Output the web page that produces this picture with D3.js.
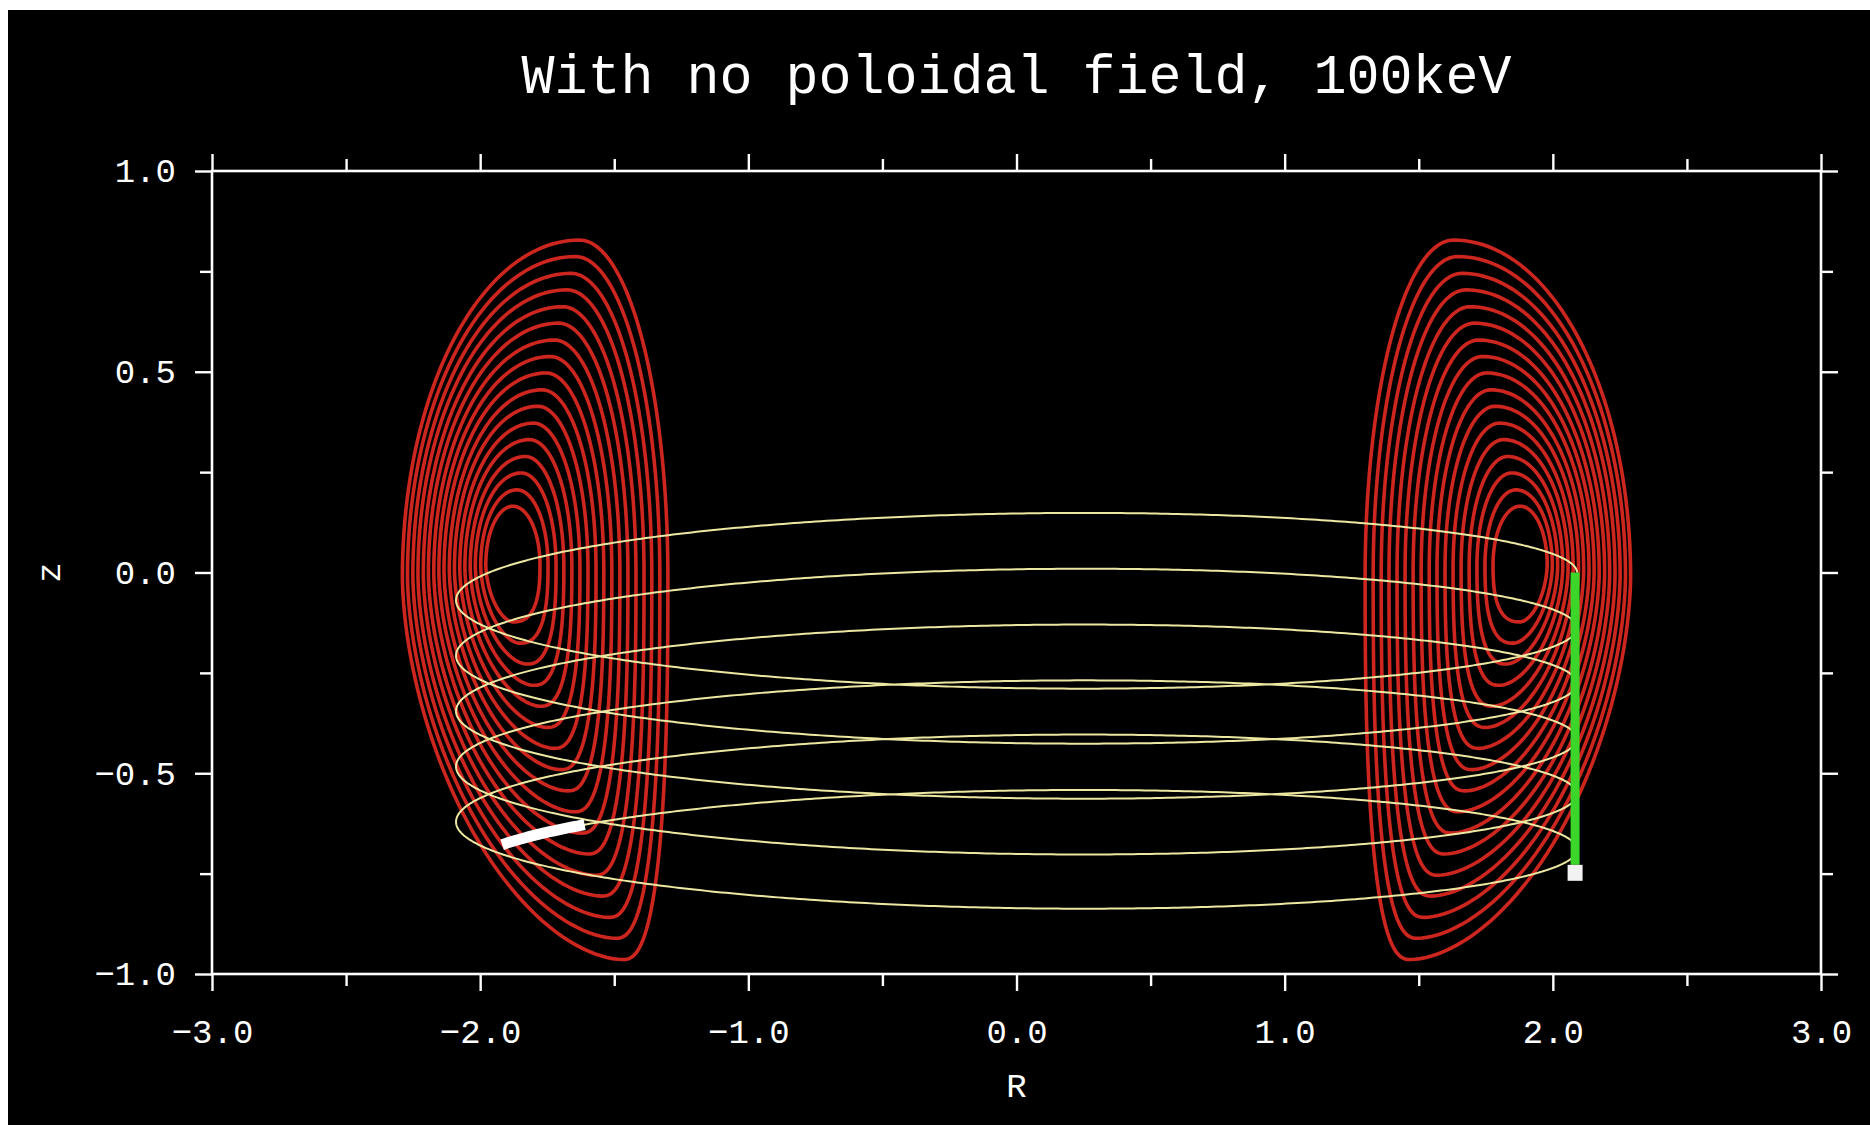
<!DOCTYPE html>
<html>
<head>
<meta charset="utf-8">
<script src="https://cdn.jsdelivr.net/npm/d3@7"></script>
<style>
    body { margin: 0; background: #ffffff; }
    svg { display: block; }
</style>
</head>
<body>
<script>
// axis ticks
var xTicks = [-3, -2, -1, 0, 1, 2, 3];
var xMinorTicks = [-2.5, -1.5, -0.5, 0.5, 1.5, 2.5];
var xTickLabels = ['\u22123.0', '\u22122.0', '\u22121.0', '0.0', '1.0', '2.0', '3.0'];
var yTicks = [-1, -0.5, 0, 0.5, 1];
var yMinorTicks = [-0.75, -0.25, 0.25, 0.75];
var yTickLabels = ['\u22121.0', '\u22120.5', '0.0', '0.5', '1.0'];

// flux surfaces (right half, the left one is its mirror), innermost first
var surfInnerR  = [1.777, 1.747, 1.717, 1.688, 1.658, 1.628, 1.598, 1.568, 1.539, 1.509, 1.479, 1.449, 1.419, 1.389, 1.360, 1.330, 1.300];
var surfOuterR  = [1.979, 1.998, 2.018, 2.037, 2.057, 2.076, 2.096, 2.115, 2.135, 2.154, 2.173, 2.193, 2.212, 2.232, 2.251, 2.271, 2.290];
var surfTopZ    = [0.165, 0.206, 0.248, 0.289, 0.331, 0.372, 0.414, 0.455, 0.497, 0.538, 0.579, 0.621, 0.662, 0.704, 0.745, 0.787, 0.828];
var surfBottomZ = [-0.123, -0.176, -0.228, -0.281, -0.333, -0.386, -0.438, -0.491, -0.544, -0.596, -0.649, -0.701, -0.754, -0.806, -0.859, -0.911, -0.964];
var surfTopR    = [1.878, 1.863, 1.847, 1.832, 1.816, 1.801, 1.785, 1.769, 1.754, 1.738, 1.723, 1.707, 1.692, 1.676, 1.661, 1.645, 1.630];
var surfBottomR = [1.878, 1.853, 1.827, 1.802, 1.776, 1.751, 1.725, 1.700, 1.674, 1.649, 1.623, 1.598, 1.572, 1.547, 1.521, 1.496, 1.470];
var surfMidZ    = [0.020, 0.018, 0.016, 0.014, 0.013, 0.011, 0.009, 0.007, 0.005, 0.003, 0.001, -0.001, -0.003, -0.004, -0.006, -0.008, -0.010];

// particle orbit: turning points and arc heights at R = 0
var orbitRadius = 2.09;
var orbitRightTipZ = [0.000, -0.138, -0.276, -0.414, -0.552, -0.690];
var orbitLeftTipZ = [-0.069, -0.207, -0.345, -0.483, -0.621, -0.759];
var orbitUpperMidZ = [0.147, 0.008, -0.131, -0.270, -0.405, -0.543];
var orbitLowerMidZ = [-0.288, -0.425, -0.562, -0.701, -0.836];
var orbitEndR = -1.92;
var markStartR = -1.60;

// drift marker
var driftR = 2.083;
var driftTopZ = 0.0;
var driftBottomZ = -0.728;
var endBoxZ = -0.748;

var W = 1870, H = 1125;
var plotL = 212, plotR = 1821, plotT = 171, plotB = 974;

var svg = d3.select('body').append('svg')
    .attr('width', W)
    .attr('height', H);

svg.append('rect')
    .attr('x', 8).attr('y', 10)
    .attr('width', W - 8).attr('height', H - 10)
    .attr('fill', '#000000');

var x = d3.scaleLinear().domain([-3, 3]).range([plotL, plotR]);
var y = d3.scaleLinear().domain([-1, 1]).range([plotB, plotT]);

var line = d3.line().x(d => x(d[0])).y(d => y(d[1]));

// one quarter of a superellipse, from the side point to the apex
function quarter(rSide, zSide, rApex, zApex, p, reverse) {
    var pts = [];
    var n = 48;
    for (var i = 0; i <= n; i++) {
        var s = (reverse ? n - i : i) / n * Math.PI / 2;
        var u = Math.pow(Math.cos(s), 2 / p);
        var v = Math.pow(Math.sin(s), 2 / p);
        pts.push([rApex + (rSide - rApex) * u, zSide + (zApex - zSide) * v]);
    }
    return pts;
}

function surface(i, sign) {
    var pts = []
        .concat(quarter(surfOuterR[i], surfMidZ[i], surfTopR[i], surfTopZ[i], 2.0, false))
        .concat(quarter(surfInnerR[i], surfMidZ[i], surfTopR[i], surfTopZ[i], 2.0, true))
        .concat(quarter(surfInnerR[i], surfMidZ[i], surfBottomR[i], surfBottomZ[i], 2.6, false))
        .concat(quarter(surfOuterR[i], surfMidZ[i], surfBottomR[i], surfBottomZ[i], 1.75, true));
    return pts.map(d => [sign * d[0], d[1]]);
}

var surfaces = [];
surfInnerR.forEach(function(d, i) {
    surfaces.push(surface(i, 1));
    surfaces.push(surface(i, -1));
});

var closedLine = d3.line().x(d => x(d[0])).y(d => y(d[1])).curve(d3.curveLinearClosed);

svg.append('g')
    .attr('class', 'surfaces')
    .selectAll('path')
    .data(surfaces)
    .enter().append('path')
    .attr('d', closedLine)
    .attr('fill', 'none')
    .attr('stroke', '#cc261f')
    .attr('stroke-width', 3.6);

// half turns of the orbit, from one turning point to the next
var halves = [];
orbitRightTipZ.forEach(function(z0, k) {
    halves.push({ from: z0, to: orbitLeftTipZ[k], mid: orbitUpperMidZ[k], phase: 0 });
    if (k < orbitLowerMidZ.length) {
        halves.push({ from: orbitLeftTipZ[k], to: orbitRightTipZ[k + 1], mid: orbitLowerMidZ[k], phase: Math.PI });
    }
});

var sEnd = Math.acos(orbitEndR / orbitRadius);
var sMark = Math.acos(markStartR / orbitRadius);
var orbit = [], mark = [];
halves.forEach(function(h, j) {
    var last = j === halves.length - 1;
    var amp = h.mid - (h.from + h.to) / 2;
    for (var i = 0; i <= 300; i++) {
        var s = i / 300 * Math.PI;
        if (last && s > sEnd) break;
        var pt = [orbitRadius * Math.cos(h.phase + s), h.from + (h.to - h.from) * s / Math.PI + amp * Math.sin(s)];
        orbit.push(pt);
        if (last && s >= sMark) mark.push(pt);
    }
});

svg.append('path')
    .attr('d', line(orbit))
    .attr('fill', 'none')
    .attr('stroke', '#ece8a2')
    .attr('stroke-width', 2);

svg.append('path')
    .attr('d', line(mark))
    .attr('fill', 'none')
    .attr('stroke', '#ffffff')
    .attr('stroke-width', 11);

svg.append('line')
    .attr('x1', x(driftR)).attr('x2', x(driftR))
    .attr('y1', y(driftTopZ)).attr('y2', y(driftBottomZ))
    .attr('stroke', '#3cd62a')
    .attr('stroke-width', 9);

svg.append('rect')
    .attr('x', x(driftR) - 7.5).attr('y', y(endBoxZ) - 8)
    .attr('width', 15).attr('height', 16)
    .attr('fill', '#f2f2f2');

// frame and ticks
var font = "'Liberation Mono', 'DejaVu Sans Mono', monospace";

function styleAxis(g) {
    g.select('.domain').remove();
    g.selectAll('line').attr('stroke', '#ffffff').attr('stroke-width', 2.4);
    g.selectAll('text').attr('fill', '#ffffff').style('font-family', font).style('font-size', '34px');
}

svg.append('rect')
    .attr('x', plotL).attr('y', plotT)
    .attr('width', plotR - plotL).attr('height', plotB - plotT)
    .attr('fill', 'none')
    .attr('stroke', '#ffffff')
    .attr('stroke-width', 2.6);

svg.append('g').attr('transform', `translate(0,${plotB})`)
    .call(d3.axisBottom(x).tickValues(xTicks).tickSize(17).tickSizeOuter(0)
        .tickFormat((d, i) => xTickLabels[i]))
    .call(styleAxis)
    .selectAll('text').attr('y', 69).attr('dy', 0);

svg.append('g').attr('transform', `translate(0,${plotB})`)
    .call(d3.axisBottom(x).tickValues(xMinorTicks).tickSize(12).tickSizeOuter(0).tickFormat(''))
    .call(styleAxis);

svg.append('g').attr('transform', `translate(0,${plotT})`)
    .call(d3.axisTop(x).tickValues(xTicks).tickSize(17).tickSizeOuter(0).tickFormat(''))
    .call(styleAxis);

svg.append('g').attr('transform', `translate(0,${plotT})`)
    .call(d3.axisTop(x).tickValues(xMinorTicks).tickSize(12).tickSizeOuter(0).tickFormat(''))
    .call(styleAxis);

svg.append('g').attr('transform', `translate(${plotL},0)`)
    .call(d3.axisLeft(y).tickValues(yTicks).tickSize(17).tickPadding(19).tickSizeOuter(0)
        .tickFormat((d, i) => yTickLabels[i]))
    .call(styleAxis);

svg.append('g').attr('transform', `translate(${plotL},0)`)
    .call(d3.axisLeft(y).tickValues(yMinorTicks).tickSize(12).tickSizeOuter(0).tickFormat(''))
    .call(styleAxis);

svg.append('g').attr('transform', `translate(${plotR},0)`)
    .call(d3.axisRight(y).tickValues(yTicks).tickSize(17).tickSizeOuter(0).tickFormat(''))
    .call(styleAxis);

svg.append('g').attr('transform', `translate(${plotR},0)`)
    .call(d3.axisRight(y).tickValues(yMinorTicks).tickSize(12).tickSizeOuter(0).tickFormat(''))
    .call(styleAxis);

// titles
svg.append('text')
    .attr('x', x(0)).attr('y', 93)
    .attr('text-anchor', 'middle')
    .attr('fill', '#ffffff')
    .style('font-family', font)
    .style('font-size', '55px')
    .text('With no poloidal field, 100keV');

svg.append('text')
    .attr('x', x(0)).attr('y', 1097)
    .attr('text-anchor', 'middle')
    .attr('fill', '#ffffff')
    .style('font-family', font)
    .style('font-size', '34px')
    .text('R');

svg.append('text')
    .attr('transform', `translate(50,${y(0)}) rotate(-90)`)
    .attr('text-anchor', 'middle')
    .attr('dy', '0.3em')
    .attr('fill', '#ffffff')
    .style('font-family', font)
    .style('font-size', '34px')
    .text('z');
</script>
</body>
</html>
